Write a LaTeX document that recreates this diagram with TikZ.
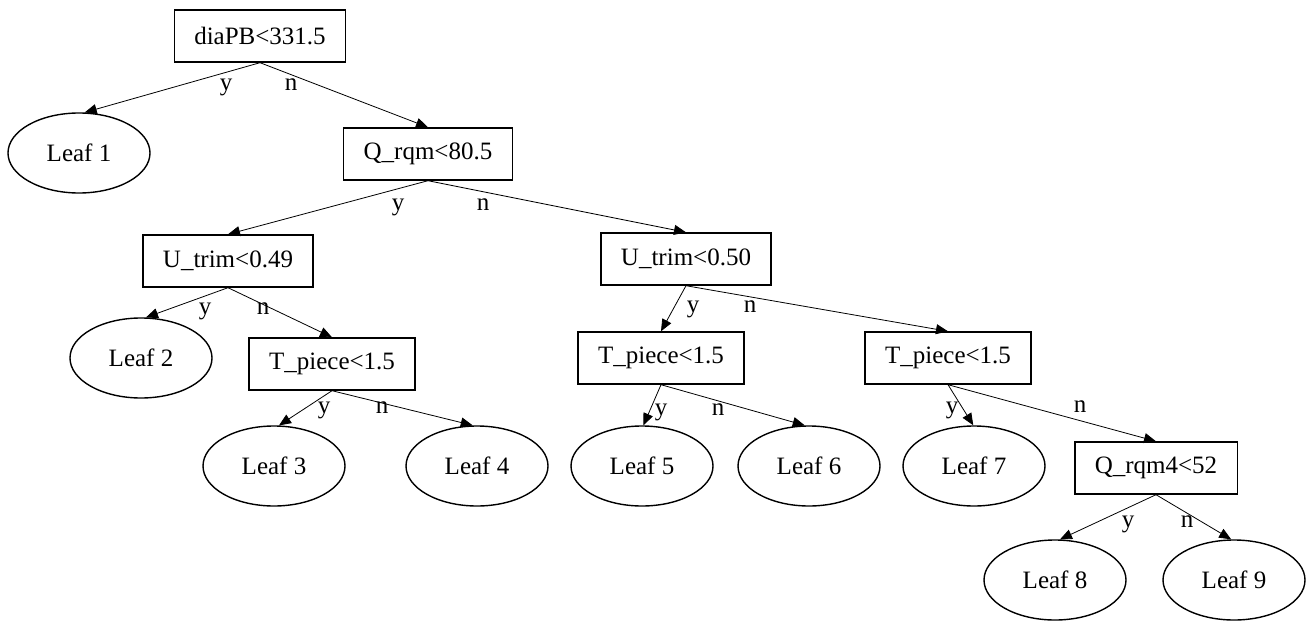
\documentclass[tikz,border=0pt]{standalone}
\usepackage{fontspec}
\setmainfont{Liberation Serif}
\usetikzlibrary{arrows.meta,shapes.geometric}

\begin{document}
\begin{tikzpicture}[x=1pt, y=-1pt,
    test/.style={rectangle, draw, line width=1.4pt, minimum height=52pt,
      inner xsep=20pt, font=\fontsize{25}{30}\selectfont},
    leaf/.style={ellipse, draw, line width=1.4pt, minimum width=142pt,
      minimum height=80pt, inner sep=0pt, font=\fontsize{25}{30}\selectfont},
    lbl/.style={inner sep=0pt, text height=1.5ex, text depth=.25ex,
      font=\fontsize{25}{30}\selectfont}]
  \useasboundingbox (0,0) rectangle (1311,623);

  % tests
  \begin{scope}[every node/.style={test}]
    \node (root) at (260,36) {diaPB<331.5};
    \node (q) at (428,154) {Q\_rqm<80.5};
    \node (ua) at (228,261) {U\_trim<0.49};
    \node (ub) at (686,259) {U\_trim<0.50};
    \node (ta) at (332,364) {T\_piece<1.5};
    \node (tb) at (661,358) {T\_piece<1.5};
    \node (tc) at (948,358) {T\_piece<1.5};
    \node (q4) at (1156,468) {Q\_rqm4<52};
  \end{scope}

  % leaves
  \begin{scope}[every node/.style={leaf}]
    \node (l1) at (79,153) {Leaf 1};
    \node (l2) at (141,358) {Leaf 2};
    \node (l3) at (274,466) {Leaf 3};
    \node (l4) at (477,466) {Leaf 4};
    \node (l5) at (642,466) {Leaf 5};
    \node (l6) at (809,466) {Leaf 6};
    \node (l7) at (974,466) {Leaf 7};
    \node (l8) at (1055,580) {Leaf 8};
    \node (l9) at (1234,580) {Leaf 9};
  \end{scope}

  \begin{scope}[-{Triangle[length=12pt,width=10pt]}, line width=0.8pt]
    \draw (root.south) to (l1.82); \draw (root.south) to (q.north);
    \draw (q.south) to (ua.north); \draw (q.south) to (ub.north);
    \draw (ua.south) to (l2.83); \draw (ua.south) to (ta.north);
    \draw (ub.south) to (tb.north); \draw (ub.south) to (tc.north);
    \draw (ta.south) to (l3.83); \draw (ta.south) to (l4.96);
    \draw (tb.south) to (l5.88); \draw (tb.south) to (l6.96);
    \draw (tc.south) to (l7.91); \draw (tc.south) to (q4.north);
    \draw (q4.south) to (l8.83); \draw (q4.south) to (l9.94);
  \end{scope}

  % y / n labels
  \begin{scope}[every node/.style={lbl}]
    \node (y0) at (226,88) {y}; \node (n0) at (291,88) {n};
    \node (y1) at (398,208) {y}; \node (n1) at (483,208) {n};
    \node (y2) at (205,312) {y}; \node (n2) at (263,312) {n};
    \node (y3) at (693,310) {y}; \node (n3) at (750,310) {n};
    \node (y4) at (324,411) {y}; \node (n4) at (382,411) {n};
    \node (y5) at (661,413) {y}; \node (n5) at (718,413) {n};
    \node (y6) at (952,411) {y}; \node (n6) at (1080,410) {n};
    \node (y7) at (1128,525) {y}; \node (n7) at (1187,525) {n};
  \end{scope}
\end{tikzpicture}
\end{document}
